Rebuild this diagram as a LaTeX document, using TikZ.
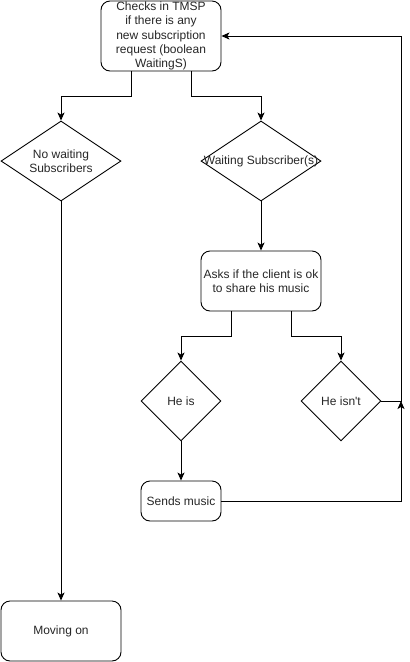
\documentclass[tikz,border=0pt]{standalone}
\usepackage{fontspec}
\setmainfont{Liberation Sans}
\usetikzlibrary{shapes.geometric,arrows.meta,calc}
\begin{document}
\begin{tikzpicture}[x=1pt,y=-1pt,
  every node/.style={font=\fontsize{12}{14.4}\selectfont, text=black!85},
  box/.style={draw, rounded corners=9pt, line width=0.9pt, inner sep=0pt, align=center},
  dia/.style={draw, diamond, aspect=1.5, inner sep=0pt, line width=0.9pt, align=center},
  arr/.style={line width=0.9pt, -{Stealth[length=8pt,width=7pt,inset=2pt]}},
  ln/.style={line width=0.9pt}]
\useasboundingbox (0,0) rectangle (410,662);
\node[box, minimum width=120pt, minimum height=70pt] (top) at (161,36)
  {Checks in TMSP\\if there is any\\new subscription\\request (boolean\\WaitingS)};
\node[dia, minimum width=120pt, minimum height=80pt] (nw) at (61,161) {No waiting\\Subscribers};
\node[dia, minimum width=120pt, minimum height=80pt] (ws) at (261,161) {\makebox[0pt]{Waiting Subscriber(s)}};
\node[box, minimum width=120pt, minimum height=60pt] (asks) at (261,281) {Asks if the client is ok\\to share his music};
\node[dia, minimum width=80pt, minimum height=80pt, aspect=1] (heis) at (181,401) {He is};
\node[dia, minimum width=80pt, minimum height=80pt, aspect=1] (heisnt) at (341,401) {He isn\textquotesingle t};
\node[box, minimum width=80pt, minimum height=40pt] (sends) at (181,501) {Sends music};
\node[box, minimum width=120pt, minimum height=60pt] (move) at (61,631) {Moving on};
\coordinate (j) at (401,401);

\draw[arr] ([xshift=-30pt]top.south) -- ++(0,25) -| (nw.north);
\draw[arr] ([xshift=30pt]top.south) -- ++(0,25) -| (ws.north);
\draw[arr] (ws.south) -- (asks.north);
\draw[arr] ([xshift=-30pt]asks.south) -- ++(0,25) -| (heis.north);
\draw[arr] ([xshift=30pt]asks.south) -- ++(0,25) -| (heisnt.north);
\draw[arr] (heis.south) -- (sends.north);
\draw[arr] (heisnt.east) -- (j) |- (top.east);
\draw[arr] (sends.east) -| (j);
\draw[arr] (nw.south) -- (move.north);
\end{tikzpicture}
\end{document}
